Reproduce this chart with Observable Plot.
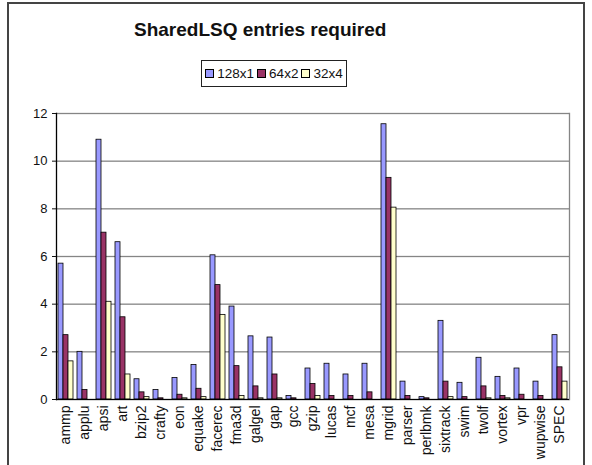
<!DOCTYPE html>
<html>
<head>
<meta charset="utf-8">
<script src="https://cdn.jsdelivr.net/npm/d3@7"></script>
<script src="https://cdn.jsdelivr.net/npm/@observablehq/plot@0.6"></script>
<style>
  html, body { margin: 0; padding: 0; background: #fff; }
  #wrap { position: relative; width: 592px; height: 465px; overflow: hidden; font-family: "Liberation Sans", Arial, sans-serif; }
  #border { position: absolute; left: 7px; top: 2px; width: 574px; height: 480px; border: 2px solid #444; }
  #title { position: absolute; left: 134px; top: 19px; white-space: nowrap; font-weight: bold; font-size: 19px; color: #111; }
  #legend { position: absolute; left: 201px; top: 60px; width: 146px; height: 27px; border: 1px solid #222; box-sizing: border-box;
            display: flex; align-items: center; justify-content: center; gap: 3px; font-size: 13.5px; color: #111; }
  .item { display: flex; align-items: center; gap: 3px; }
  .sw { width: 7px; height: 7px; border: 1px solid #000; }
  #chart { position: absolute; left: 0; top: 100px; }
</style>
</head>
<body>
<div id="wrap">
  <div id="border"></div>
  <div id="title">SharedLSQ entries required</div>
  <div id="legend"></div>
  <div id="chart"></div>
</div>
<script>
const categories = ["ammp","applu","apsi","art","bzip2","crafty","eon","equake","facerec","fma3d","galgel","gap","gcc","gzip","lucas","mcf","mesa","mgrid","parser","perlbmk","sixtrack","swim","twolf","vortex","vpr","wupwise","SPEC"];
const series = ["128x1","64x2","32x4"];
const colors = ["#9999ff","#993366","#ffffcc"];
const v128x1 = [5.7,2.0,10.9,6.6,0.85,0.4,0.9,1.45,6.05,3.9,2.65,2.6,0.15,1.3,1.5,1.05,1.5,11.55,0.75,0.1,3.3,0.7,1.75,0.95,1.3,0.75,2.7];
const v64x2  = [2.7,0.4,7.0,3.45,0.3,0.05,0.2,0.45,4.8,1.4,0.55,1.05,0.05,0.65,0.15,0.15,0.3,9.3,0.15,0.05,0.75,0.1,0.55,0.15,0.2,0.15,1.35];
const v32x4  = [1.6,0.0,4.1,1.05,0.1,0.0,0.05,0.1,3.55,0.15,0.05,0.05,0.0,0.15,0.0,0.0,0.0,8.05,0.0,0.0,0.1,0.0,0.05,0.05,0.0,0.0,0.75];
const yTicks = [0,2,4,6,8,10,12];

const valuesBySeries = [v128x1, v64x2, v32x4];
const data = categories.flatMap((c, i) => series.map((s, j) => ({cat: c, series: s, value: valuesBySeries[j][i]})));

// legend
const legend = document.getElementById("legend");
series.forEach((s, j) => {
  const it = document.createElement("div");
  it.className = "item";
  const sw = document.createElement("div");
  sw.className = "sw";
  sw.style.background = colors[j];
  const t = document.createElement("span");
  t.textContent = s;
  it.appendChild(sw); it.appendChild(t);
  legend.appendChild(it);
});

const chart = Plot.plot({
  width: 592,
  height: 362,
  marginTop: 13,
  marginBottom: 63,
  marginLeft: 48,
  marginRight: 16,
  style: {fontFamily: "'Liberation Sans', Arial, sans-serif", fontSize: "13px", background: "transparent", color: "#111", overflow: "visible"},
  fx: {domain: categories, padding: 0, label: null},
  x: {domain: series, axis: null, paddingInner: 0, paddingOuter: 0.38},
  y: {domain: [0, 12], label: null},
  color: {domain: series, range: colors},
  marks: [
    Plot.ruleY(yTicks.filter(d => d > 0), {stroke: "#858585", strokeWidth: 1.3}),
    Plot.barY(data, {fx: "cat", x: "series", y: "value", fill: "series", stroke: "#000", strokeWidth: 0.8}),
    Plot.frame({anchor: "right", facetAnchor: "right", stroke: "#858585", strokeWidth: 1.3}),
    Plot.frame({anchor: "left", facetAnchor: "left", stroke: "#000", strokeWidth: 1.3}),
    Plot.ruleY([0], {stroke: "#000", strokeWidth: 1.3}),
    Plot.axisY({ticks: yTicks, tickSize: 4, tickPadding: 5, label: null, fontSize: 13}),
    Plot.axisFx({anchor: "bottom", tickRotate: -90, tickSize: 0, tickPadding: 6, label: null, fontSize: 14})
  ]
});
document.getElementById("chart").appendChild(chart);
</script>
</body>
</html>
